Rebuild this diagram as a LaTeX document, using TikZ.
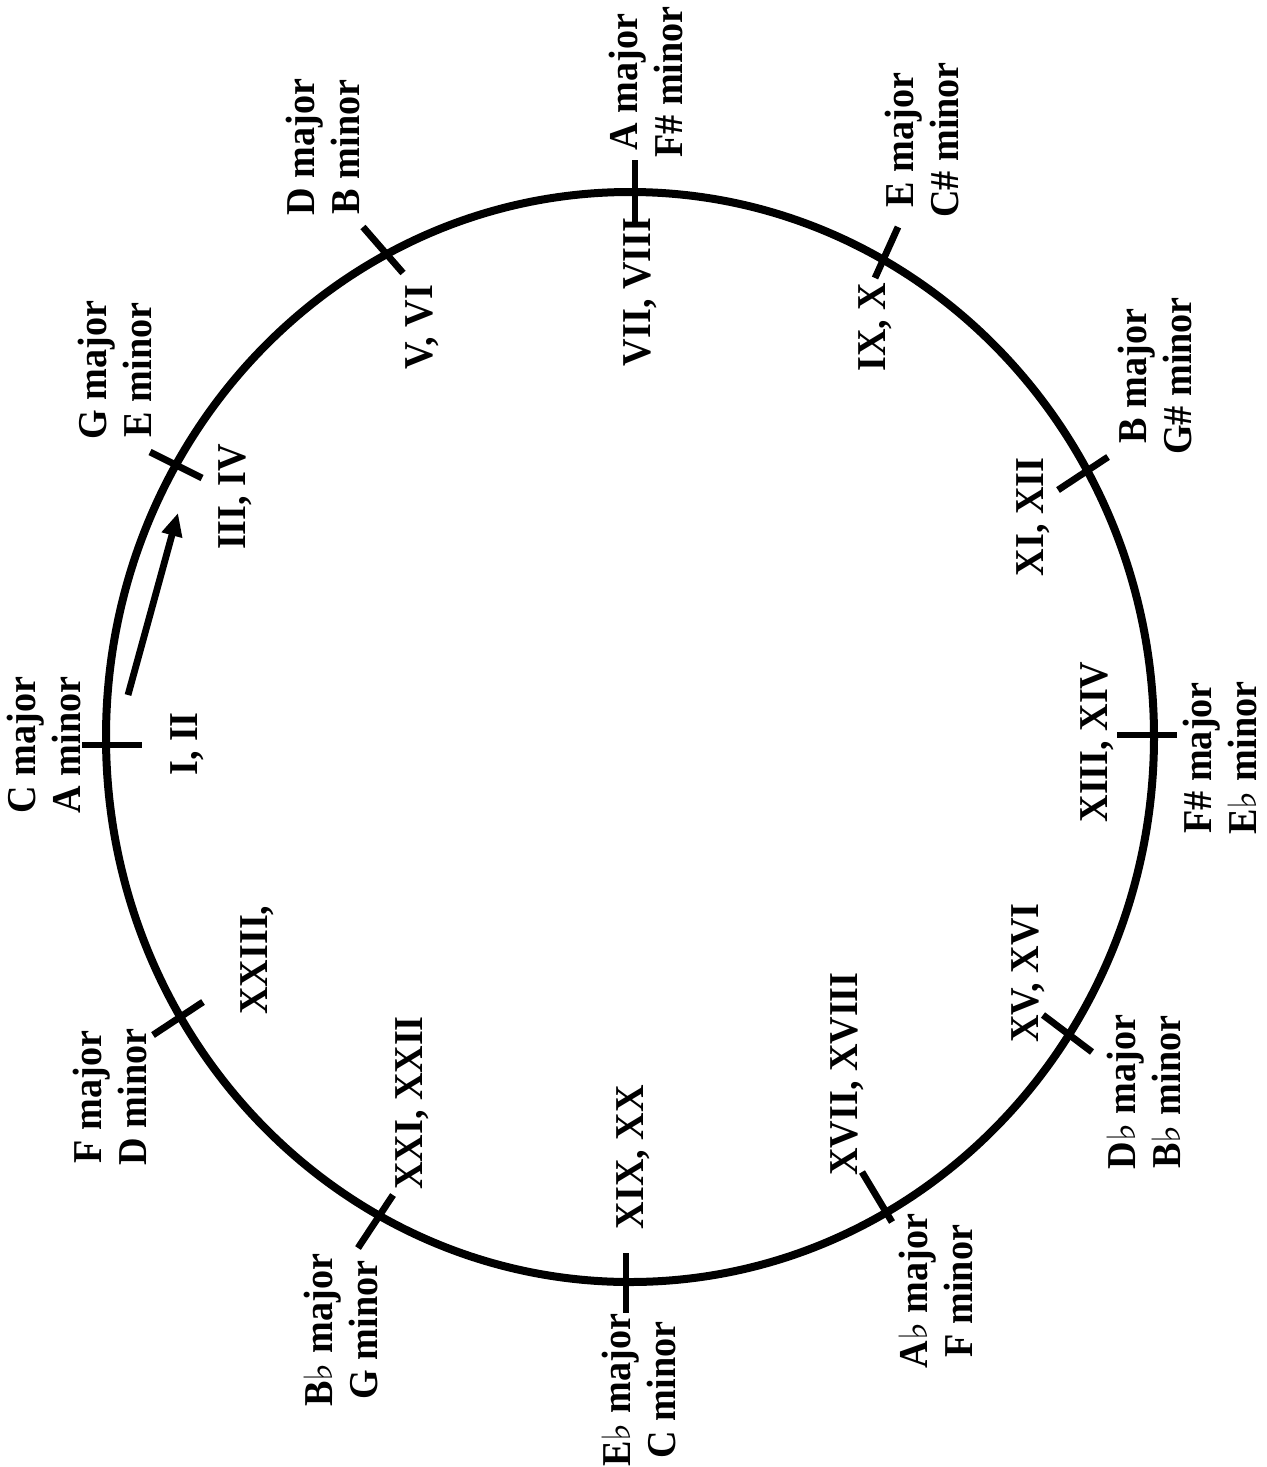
\documentclass[tikz,border=0pt]{standalone}
\usepackage{fontspec}
\setmainfont{Liberation Serif}[FakeStretch=0.93]
\newfontfamily\flatfont{DejaVu Sans}[Scale=0.95]
\usetikzlibrary{arrows.meta}
\newcommand\myflat{{\flatfont\bfseries ♭}}
\begin{document}
\begin{tikzpicture}[x=0.5pt,y=-0.5pt,
  keytext/.style={rotate=90, align=center, inner sep=0pt, font=\fontsize{20.5}{22.5}\selectfont\bfseries},
  numtext/.style={rotate=90, anchor=base, inner sep=0pt, font=\fontsize{20.5}{22.5}\selectfont\bfseries},
  tickmark/.style={line width=3.4pt},
  arrowline/.style={line width=3.4pt, -{Triangle[length=11.5pt,width=10pt]}}]
\useasboundingbox (0,0) rectangle (1266,1467);
\fill[white] (0,0) rectangle (1266,1467);
% circle
\draw[line width=4pt] (630,737) ellipse [x radius=262pt, y radius=272.5pt];
% ticks
\draw[tickmark] (82,745) -- (142,745);
\draw[tickmark] (150,452) -- (202,478);
\draw[tickmark] (363,227) -- (403,273);
\draw[tickmark] (635,160) -- (635,222);
\draw[tickmark] (898,227) -- (875,278);
\draw[tickmark] (1108,457) -- (1058,490);
\draw[tickmark] (1117,735) -- (1177,735);
\draw[tickmark] (1043,1015) -- (1092,1052);
\draw[tickmark] (862,1172) -- (892,1222);
\draw[tickmark] (626,1253) -- (626,1313);
\draw[tickmark] (393,1195) -- (358,1248);
\draw[tickmark] (203,1002) -- (153,1035);
% arrow
\coordinate (arrS) at (128,695);
\coordinate (arrE) at (178,513);
\draw[arrowline] (arrS) -- (arrE);
% key labels
\node[keytext] (kC) at (44,745) {C major\\A minor};
\node[keytext] (kG) at (115,370) {G major\\E minor};
\node[keytext] (kD) at (323,147) {D major\\B minor};
\node[keytext] (kA) at (646,82) {A major\\F\# minor};
\node[keytext] (kE) at (922,140) {E major\\C\# minor};
\node[keytext] (kB) at (1155,376) {B major\\G\# minor};
\node[keytext] (kFs) at (1220,758) {F\# major\\E\myflat{} minor};
\node[keytext] (kDb) at (1144,1092) {D\myflat{} major\\B\myflat{} minor};
\node[keytext] (kAb) at (936,1291) {A\myflat{} major\\F minor};
\node[keytext] (kEb) at (639,1390) {E\myflat{} major\\C minor};
\node[keytext] (kBb) at (341,1330) {B\myflat{} major\\G minor};
\node[keytext] (kF) at (110,1097) {F major\\D minor};
% roman numerals
\node[numtext] (n1) at (197,744) {I, II};
\node[numtext] (n3) at (245,497) {III, IV};
\node[numtext] (n5) at (432,327) {V, VI};
\node[numtext] (n7) at (650,292) {VII, VIII};
\node[numtext] (n9) at (885,327) {IX, X};
\node[numtext] (n11) at (1043,517) {XI, XII};
\node[numtext] (n13) at (1107,742) {XIII, XIV};
\node[numtext] (n15) at (1038,973) {XV, XVI};
\node[numtext] (n17) at (857,1074) {XVII, XVIII};
\node[numtext] (n19) at (643,1157) {XIX, XX};
\node[numtext] (n21) at (422,1103) {XXI, XXII};
\node[numtext] (n23) at (267,960) {XXIII,};
\end{tikzpicture}
\end{document}
